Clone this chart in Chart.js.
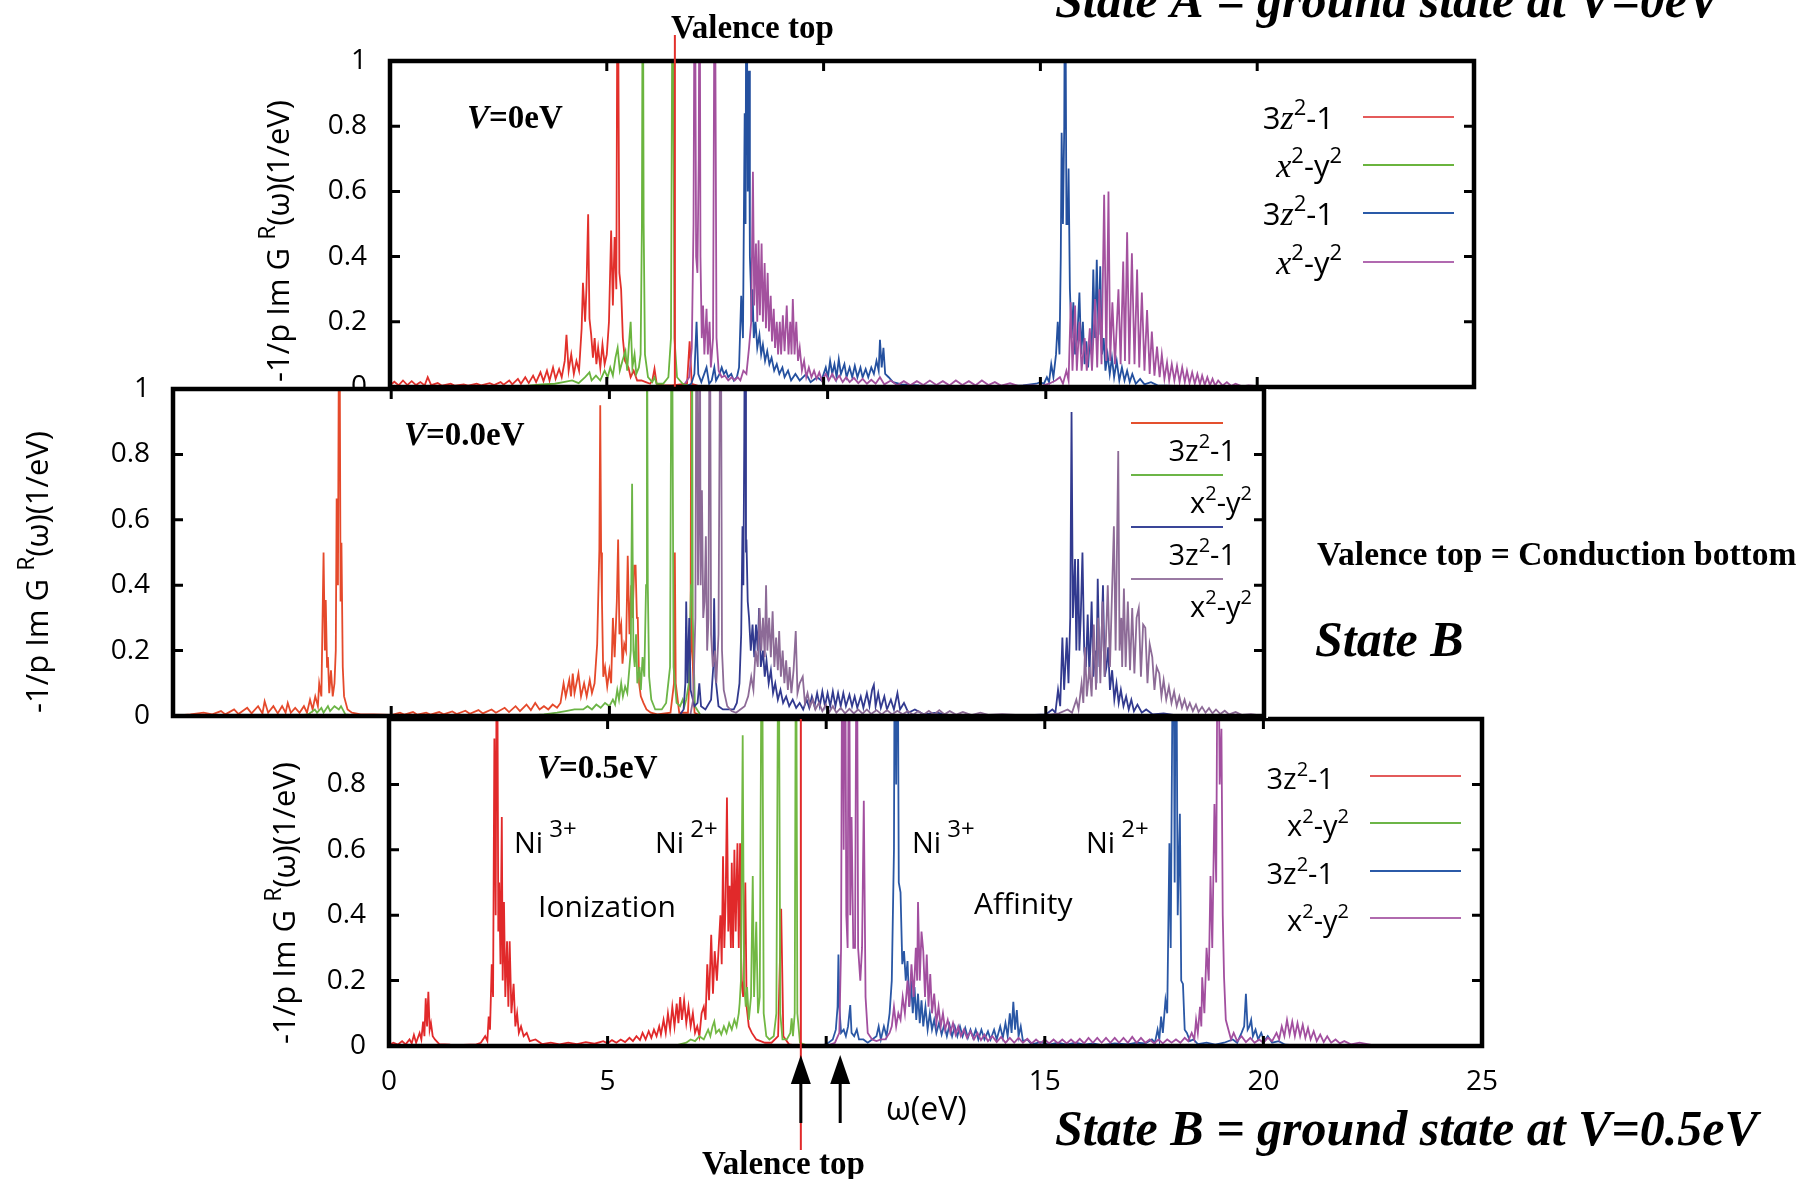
<!DOCTYPE html>
<html><head><meta charset="utf-8">
<script src="https://cdn.jsdelivr.net/npm/chart.js@4.4.1/dist/chart.umd.min.js"></script>
<style>
html,body{margin:0;padding:0;background:#fff;overflow:hidden;width:1805px;height:1179px}
canvas{position:absolute;left:0;top:0}
</style></head>
<body>
<canvas id="cTop" width="1805" height="1179" style="z-index:1"></canvas>
<canvas id="cBot" width="1805" height="1179" style="z-index:2"></canvas>
<canvas id="cMid" width="1805" height="1179" style="z-index:3"></canvas>
<script>
// ---------------- DATA ----------------
const yTicks = [0, 0.2, 0.4, 0.6, 0.8, 1];
const xTicksTop = [0, 5, 10, 15, 20, 25];
const xTicksMid = [-5, 0, 5, 10, 15, 20];
const seriesNames = ['3z²-1', 'x²-y²', '3z²-1', 'x²-y²'];
const panelLabels = ['V=0eV', 'V=0.0eV', 'V=0.5eV'];
const valenceTopA = 6.57;       // eV, top panel marker
const valenceTopB = 9.42;       // eV, bottom panel marker
const conductionBottomB = 10.32; // eV, bottom panel second arrow

// Top panel: State A, V=0eV  [omega (eV), -1/pi Im G]
const topRed = [[0,0.005],[0.1,0.016],[0.2,0.005],[0.3,0.02],[0.4,0.006],[0.5,0.018],[0.6,0.006],[0.7,0.015],[0.8,0.005],[0.87,0.03],[0.95,0.006],[1.1,0.012],[1.2,0.004],[1.4,0.01],[1.5,0.004],[1.7,0.008],[1.8,0.004],[2.0,0.01],[2.1,0.005],[2.3,0.012],[2.4,0.006],[2.55,0.015],[2.62,0.007],[2.75,0.02],[2.82,0.008],[2.95,0.025],[3.02,0.01],[3.12,0.03],[3.2,0.012],[3.3,0.035],[3.37,0.015],[3.47,0.045],[3.54,0.018],[3.62,0.05],[3.68,0.02],[3.76,0.06],[3.82,0.025],[3.9,0.055],[3.96,0.03],[4.03,0.08],[4.07,0.16],[4.12,0.05],[4.18,0.1],[4.24,0.04],[4.3,0.08],[4.36,0.05],[4.42,0.18],[4.45,0.32],[4.5,0.2],[4.53,0.3],[4.57,0.53],[4.6,0.21],[4.64,0.16],[4.68,0.09],[4.72,0.15],[4.76,0.07],[4.8,0.12],[4.85,0.06],[4.9,0.13],[4.95,0.07],[5.0,0.1],[5.05,0.2],[5.1,0.48],[5.14,0.25],[5.18,0.46],[5.22,0.3],[5.25,1.5],[5.29,0.35],[5.33,0.3],[5.37,0.15],[5.42,0.08],[5.5,0.06],[5.55,0.03],[5.62,0.05],[5.7,0.02],[5.8,0.02],[5.9,0.015],[6.0,0.01],[6.05,0.02],[6.1,0.056],[6.15,0.01],[6.3,0.005],[6.5,0.005],[6.85,0.01],[6.91,0.14],[6.96,0.01],[7.2,0]];
const topGreen = [[3.0,0.002],[3.5,0.008],[3.8,0.01],[4.0,0.015],[4.2,0.02],[4.35,0.012],[4.5,0.03],[4.6,0.045],[4.65,0.02],[4.75,0.035],[4.85,0.02],[4.95,0.05],[5.02,0.03],[5.08,0.06],[5.14,0.035],[5.2,0.09],[5.25,0.12],[5.3,0.05],[5.36,0.08],[5.43,0.11],[5.47,0.05],[5.51,0.13],[5.55,0.2],[5.59,0.06],[5.64,0.1],[5.68,0.04],[5.74,0.06],[5.78,0.1],[5.81,0.5],[5.83,1.5],[5.85,0.5],[5.88,0.1],[5.95,0.03],[6.05,0.015],[6.1,0.03],[6.15,0.01],[6.3,0.01],[6.42,0.03],[6.48,0.15],[6.52,1.5],[6.56,0.15],[6.62,0.03],[6.75,0.01],[7.0,0]];
const topBlue = [[6.8,0],[6.95,0.01],[7.02,0.04],[7.07,0.2],[7.11,0.04],[7.18,0.015],[7.3,0.06],[7.36,0.01],[7.42,0.02],[7.48,0.06],[7.52,0.02],[7.6,0.04],[7.65,0.06],[7.7,0.04],[7.75,0.05],[7.8,0.03],[7.87,0.04],[7.93,0.02],[8.0,0.03],[8.05,0.06],[8.1,0.28],[8.14,0.15],[8.18,0.84],[8.2,0.5],[8.22,1.5],[8.25,0.6],[8.28,0.97],[8.3,0.4],[8.32,0.32],[8.34,0.2],[8.36,0.3],[8.39,0.15],[8.43,0.2],[8.47,0.12],[8.52,0.16],[8.56,0.1],[8.6,0.13],[8.65,0.08],[8.7,0.11],[8.75,0.07],[8.8,0.09],[8.86,0.05],[8.92,0.07],[8.98,0.04],[9.05,0.06],[9.1,0.03],[9.18,0.05],[9.25,0.02],[9.35,0.04],[9.45,0.02],[9.6,0.04],[9.7,0.015],[9.85,0.03],[9.95,0.02],[10.05,0.06],[10.1,0.03],[10.15,0.08],[10.2,0.04],[10.25,0.07],[10.3,0.03],[10.35,0.085],[10.4,0.04],[10.48,0.07],[10.53,0.03],[10.6,0.06],[10.66,0.03],[10.72,0.065],[10.78,0.03],[10.85,0.06],[10.9,0.03],[10.97,0.055],[11.03,0.03],[11.1,0.06],[11.16,0.04],[11.22,0.08],[11.27,0.05],[11.3,0.145],[11.34,0.06],[11.38,0.12],[11.42,0.04],[11.5,0.03],[11.6,0.015],[11.8,0.008],[12.2,0.005],[13,0.003],[14,0.003],[14.6,0.005],[14.9,0.01],[15.0,0.015],[15.08,0.01],[15.15,0.03],[15.2,0.015],[15.25,0.07],[15.3,0.03],[15.36,0.1],[15.4,0.2],[15.44,0.1],[15.47,0.4],[15.49,0.78],[15.52,0.5],[15.55,0.8],[15.57,1.5],[15.6,0.5],[15.63,0.5],[15.65,0.67],[15.68,0.3],[15.72,0.15],[15.76,0.26],[15.8,0.1],[15.85,0.15],[15.9,0.29],[15.94,0.1],[15.98,0.2],[16.02,0.07],[16.06,0.14],[16.1,0.06],[16.14,0.15],[16.18,0.1],[16.22,0.36],[16.26,0.15],[16.3,0.39],[16.34,0.16],[16.38,0.37],[16.42,0.1],[16.46,0.15],[16.5,0.05],[16.55,0.1],[16.6,0.04],[16.65,0.09],[16.7,0.03],[16.76,0.08],[16.82,0.02],[16.88,0.06],[16.94,0.02],[17.0,0.05],[17.06,0.015],[17.12,0.04],[17.2,0.01],[17.3,0.025],[17.4,0.008],[17.55,0.015],[17.7,0.005],[18.5,0.002],[20,0]];
const topPurple = [[6.8,0.01],[6.9,0.03],[6.96,0.12],[7.0,0.5],[7.03,1.5],[7.06,0.4],[7.09,0.35],[7.12,0.7],[7.14,1.5],[7.16,0.4],[7.19,0.15],[7.22,0.25],[7.25,0.1],[7.3,0.24],[7.33,0.1],[7.37,0.2],[7.4,0.06],[7.45,0.15],[7.49,1.5],[7.53,0.15],[7.58,0.05],[7.65,0.03],[7.72,0.035],[7.8,0.02],[7.88,0.03],[7.95,0.02],[8.02,0.03],[8.08,0.02],[8.15,0.05],[8.22,0.04],[8.28,0.12],[8.33,0.2],[8.37,0.66],[8.4,0.25],[8.44,0.44],[8.47,0.2],[8.5,0.45],[8.53,0.22],[8.57,0.44],[8.6,0.2],[8.64,0.38],[8.67,0.18],[8.71,0.35],[8.74,0.17],[8.78,0.28],[8.81,0.14],[8.85,0.24],[8.88,0.12],[8.92,0.2],[8.95,0.1],[8.99,0.2],[9.02,0.1],[9.06,0.22],[9.1,0.11],[9.15,0.25],[9.19,0.1],[9.23,0.2],[9.26,0.1],[9.29,0.27],[9.33,0.1],[9.37,0.2],[9.41,0.08],[9.45,0.12],[9.5,0.05],[9.55,0.08],[9.6,0.03],[9.66,0.06],[9.72,0.03],[9.78,0.05],[9.84,0.025],[9.9,0.045],[9.96,0.02],[10.05,0.04],[10.12,0.02],[10.2,0.04],[10.28,0.02],[10.36,0.035],[10.44,0.015],[10.52,0.03],[10.6,0.015],[10.7,0.028],[10.8,0.012],[10.9,0.025],[11.0,0.01],[11.1,0.022],[11.2,0.01],[11.3,0.03],[11.4,0.008],[11.55,0.02],[11.7,0.005],[11.85,0.018],[12.0,0.005],[12.15,0.018],[12.3,0.006],[12.45,0.02],[12.6,0.006],[12.75,0.018],[12.9,0.005],[13.05,0.02],[13.2,0.006],[13.35,0.018],[13.5,0.005],[13.65,0.02],[13.8,0.006],[13.95,0.015],[14.1,0.004],[14.3,0.012],[14.5,0.003],[14.8,0.005],[15.0,0.003],[15.2,0.01],[15.35,0.02],[15.45,0.03],[15.52,0.01],[15.6,0.05],[15.65,0.02],[15.7,0.26],[15.74,0.05],[15.8,0.25],[15.84,0.05],[15.9,0.2],[15.95,0.05],[16.02,0.15],[16.07,0.05],[16.14,0.18],[16.19,0.05],[16.26,0.27],[16.31,0.06],[16.36,0.3],[16.41,0.07],[16.47,0.59],[16.52,0.08],[16.57,0.6],[16.61,0.08],[16.66,0.26],[16.72,0.07],[16.8,0.3],[16.85,0.07],[16.91,0.385],[16.95,0.08],[17.0,0.475],[17.05,0.07],[17.11,0.41],[17.17,0.07],[17.23,0.36],[17.28,0.06],[17.34,0.29],[17.4,0.05],[17.46,0.236],[17.52,0.04],[17.57,0.17],[17.63,0.035],[17.69,0.124],[17.75,0.03],[17.8,0.1],[17.86,0.025],[17.92,0.075],[17.97,0.02],[18.03,0.07],[18.09,0.02],[18.15,0.065],[18.21,0.015],[18.27,0.06],[18.33,0.015],[18.38,0.05],[18.44,0.012],[18.5,0.045],[18.56,0.01],[18.62,0.04],[18.68,0.008],[18.73,0.035],[18.79,0.006],[18.85,0.03],[18.91,0.005],[18.97,0.025],[19.03,0.004],[19.1,0.02],[19.2,0.004],[19.3,0.015],[19.4,0.003],[19.5,0.01],[19.65,0.002],[19.8,0.005],[20.2,0]];

// Middle panel: State B, V=0.0eV
const midRed = [[-5,0],[-4.6,0.005],[-4.3,0.01],[-4.1,0.005],[-3.9,0.015],[-3.8,0.005],[-3.6,0.02],[-3.5,0.006],[-3.3,0.025],[-3.2,0.008],[-3.05,0.03],[-2.95,0.008],[-2.9,0.045],[-2.82,0.01],[-2.7,0.03],[-2.6,0.008],[-2.5,0.03],[-2.42,0.01],[-2.37,0.04],[-2.3,0.01],[-2.2,0.025],[-2.1,0.01],[-2.0,0.03],[-1.93,0.01],[-1.86,0.05],[-1.8,0.02],[-1.74,0.06],[-1.68,0.03],[-1.65,0.1],[-1.6,0.06],[-1.55,0.5],[-1.52,0.2],[-1.5,0.355],[-1.47,0.15],[-1.45,0.18],[-1.42,0.07],[-1.38,0.14],[-1.34,0.06],[-1.3,0.1],[-1.27,0.2],[-1.25,0.665],[-1.22,0.4],[-1.19,1.5],[-1.16,0.35],[-1.14,0.53],[-1.11,0.15],[-1.08,0.06],[-1.0,0.02],[-0.9,0.01],[-0.7,0.005],[-0.4,0.005],[0,0.003],[0.2,0.01],[0.3,0.004],[0.5,0.012],[0.6,0.004],[0.8,0.01],[0.9,0.004],[1.1,0.012],[1.2,0.005],[1.4,0.014],[1.5,0.006],[1.7,0.016],[1.8,0.007],[2.0,0.018],[2.1,0.008],[2.3,0.02],[2.4,0.01],[2.6,0.025],[2.7,0.012],[2.85,0.03],[2.95,0.015],[3.1,0.035],[3.2,0.018],[3.3,0.04],[3.4,0.02],[3.5,0.03],[3.6,0.02],[3.7,0.035],[3.8,0.025],[3.88,0.04],[3.95,0.1],[4.0,0.06],[4.08,0.11],[4.12,0.06],[4.16,0.13],[4.2,0.07],[4.29,0.13],[4.35,0.06],[4.42,0.1],[4.48,0.06],[4.55,0.11],[4.6,0.07],[4.66,0.1],[4.72,0.22],[4.77,0.51],[4.79,0.95],[4.81,0.5],[4.83,0.35],[4.86,0.12],[4.9,0.15],[4.95,0.09],[5.0,0.14],[5.04,0.1],[5.08,0.3],[5.12,0.18],[5.17,0.35],[5.2,0.54],[5.23,0.25],[5.27,0.28],[5.3,0.16],[5.34,0.22],[5.38,0.2],[5.42,0.49],[5.46,0.25],[5.5,0.4],[5.53,0.3],[5.57,0.46],[5.6,0.46],[5.63,0.3],[5.65,0.3],[5.68,0.1],[5.72,0.06],[5.78,0.04],[5.85,0.02],[5.95,0.01],[6.1,0.005],[6.4,0.01],[6.48,0.1],[6.5,0.5],[6.52,0.1],[6.6,0.01],[6.8,0.01],[6.86,0.2],[6.88,1.5],[6.9,0.2],[6.95,0.01],[7.1,0]];
const midGreen = [[-2.2,0],[-1.9,0.005],[-1.75,0.02],[-1.7,0.01],[-1.6,0.025],[-1.55,0.01],[-1.45,0.03],[-1.4,0.015],[-1.3,0.03],[-1.2,0.02],[-1.15,0.03],[-1.05,0.005],[-0.8,0],[3.0,0],[3.5,0.005],[3.8,0.01],[4.0,0.015],[4.2,0.02],[4.4,0.02],[4.5,0.03],[4.6,0.02],[4.7,0.035],[4.8,0.025],[4.9,0.04],[5.0,0.03],[5.08,0.05],[5.13,0.035],[5.18,0.08],[5.22,0.05],[5.27,0.1],[5.31,0.06],[5.36,0.09],[5.41,0.07],[5.46,0.15],[5.49,0.2],[5.52,0.71],[5.55,0.2],[5.58,0.15],[5.61,0.25],[5.64,0.1],[5.69,0.15],[5.72,0.08],[5.76,0.18],[5.8,0.12],[5.84,0.4],[5.86,1.5],[5.88,0.4],[5.91,0.12],[5.96,0.05],[6.05,0.02],[6.2,0.02],[6.3,0.04],[6.39,0.15],[6.43,1.5],[6.47,0.15],[6.54,0.04],[6.62,0.03],[6.68,0.05],[6.72,0.03],[6.76,0.05],[6.82,0.1],[6.87,0.4],[6.89,1.5],[6.91,0.3],[6.96,0.03],[7.1,0]];
const midBlue = [[6.6,0],[6.7,0.02],[6.74,0.1],[6.76,0.35],[6.79,0.1],[6.83,0.3],[6.86,0.08],[6.95,0.03],[7.02,0.04],[7.06,0.1],[7.1,0.03],[7.2,0.02],[7.33,0.05],[7.38,0.15],[7.4,0.36],[7.43,0.12],[7.5,0.03],[7.6,0.02],[7.75,0.02],[7.85,0.02],[7.92,0.04],[7.98,0.1],[8.02,0.25],[8.05,0.58],[8.07,0.4],[8.09,0.84],[8.11,1.5],[8.13,0.5],[8.14,0.54],[8.17,0.35],[8.2,0.3],[8.24,0.2],[8.28,0.28],[8.32,0.18],[8.36,0.28],[8.4,0.2],[8.43,0.33],[8.47,0.15],[8.52,0.2],[8.56,0.12],[8.6,0.17],[8.65,0.1],[8.7,0.14],[8.75,0.07],[8.8,0.1],[8.86,0.05],[8.92,0.08],[8.98,0.04],[9.05,0.06],[9.12,0.03],[9.2,0.05],[9.28,0.025],[9.36,0.04],[9.44,0.02],[9.52,0.05],[9.58,0.025],[9.64,0.06],[9.7,0.03],[9.76,0.07],[9.82,0.03],[9.88,0.075],[9.94,0.03],[10.0,0.07],[10.06,0.03],[10.12,0.075],[10.18,0.03],[10.24,0.07],[10.3,0.03],[10.36,0.07],[10.42,0.03],[10.5,0.065],[10.56,0.03],[10.62,0.06],[10.68,0.025],[10.76,0.06],[10.82,0.025],[10.9,0.07],[10.96,0.03],[11.02,0.08],[11.06,0.095],[11.1,0.03],[11.16,0.07],[11.22,0.025],[11.3,0.06],[11.36,0.02],[11.45,0.05],[11.52,0.02],[11.6,0.07],[11.66,0.02],[11.75,0.04],[11.85,0.01],[12.0,0.02],[12.2,0.005],[12.5,0.01],[12.8,0.003],[13.5,0.003],[14.5,0.002],[15.0,0.005],[15.15,0.02],[15.22,0.01],[15.28,0.08],[15.33,0.03],[15.38,0.24],[15.42,0.08],[15.48,0.24],[15.52,0.1],[15.56,0.3],[15.59,0.93],[15.62,0.3],[15.67,0.48],[15.7,0.2],[15.74,0.48],[15.77,0.2],[15.8,0.3],[15.84,0.5],[15.88,0.2],[15.92,0.15],[15.96,0.31],[16.0,0.12],[16.05,0.35],[16.09,0.12],[16.13,0.2],[16.16,0.1],[16.19,0.42],[16.23,0.15],[16.27,0.2],[16.31,0.4],[16.35,0.12],[16.39,0.15],[16.43,0.21],[16.47,0.08],[16.52,0.14],[16.57,0.05],[16.62,0.1],[16.67,0.04],[16.72,0.08],[16.78,0.03],[16.84,0.06],[16.9,0.02],[16.96,0.05],[17.02,0.015],[17.1,0.035],[17.2,0.01],[17.3,0.02],[17.45,0.005],[17.7,0.008],[18,0.002],[20,0]];
const midPurple = [[6.85,0],[6.92,0.05],[6.97,0.3],[7.0,1.5],[7.03,0.4],[7.05,0.6],[7.07,1.5],[7.09,0.4],[7.12,0.69],[7.15,0.3],[7.18,0.35],[7.21,0.55],[7.24,0.2],[7.27,0.3],[7.3,1.5],[7.33,0.25],[7.37,0.15],[7.42,0.2],[7.45,0.1],[7.5,0.25],[7.55,1.5],[7.58,0.2],[7.62,0.08],[7.7,0.03],[7.8,0.015],[7.9,0.01],[8.0,0.02],[8.1,0.03],[8.18,0.06],[8.25,0.12],[8.3,0.08],[8.35,0.2],[8.4,0.15],[8.44,0.33],[8.48,0.2],[8.52,0.3],[8.56,0.18],[8.59,0.4],[8.62,0.2],[8.66,0.3],[8.7,0.18],[8.74,0.32],[8.78,0.15],[8.82,0.24],[8.86,0.14],[8.89,0.26],[8.93,0.12],[8.97,0.2],[9.01,0.1],[9.05,0.17],[9.09,0.08],[9.13,0.15],[9.17,0.07],[9.22,0.14],[9.27,0.26],[9.31,0.07],[9.36,0.1],[9.43,0.12],[9.48,0.04],[9.54,0.07],[9.6,0.03],[9.66,0.05],[9.72,0.02],[9.8,0.04],[9.88,0.015],[9.96,0.035],[10.04,0.012],[10.12,0.03],[10.2,0.01],[10.3,0.025],[10.4,0.008],[10.5,0.022],[10.6,0.008],[10.7,0.02],[10.8,0.007],[10.9,0.02],[11.0,0.006],[11.12,0.018],[11.24,0.005],[11.36,0.018],[11.48,0.005],[11.6,0.016],[11.72,0.005],[11.84,0.015],[11.96,0.004],[12.08,0.015],[12.2,0.004],[12.32,0.016],[12.44,0.004],[12.56,0.018],[12.68,0.005],[12.8,0.015],[12.95,0.004],[13.1,0.012],[13.3,0.003],[13.5,0.01],[13.7,0.003],[14,0.006],[14.5,0.002],[15.0,0.003],[15.3,0.008],[15.5,0.02],[15.6,0.01],[15.7,0.05],[15.75,0.02],[15.82,0.1],[15.86,0.04],[15.9,0.21],[15.94,0.06],[16.0,0.15],[16.05,0.06],[16.1,0.28],[16.15,0.08],[16.2,0.3],[16.25,0.1],[16.3,0.35],[16.35,0.12],[16.42,0.4],[16.47,0.15],[16.56,0.58],[16.6,0.2],[16.66,0.81],[16.69,0.2],[16.73,0.3],[16.75,0.15],[16.79,0.39],[16.83,0.15],[16.88,0.35],[16.93,0.14],[16.98,0.33],[17.03,0.13],[17.08,0.3],[17.13,0.33],[17.18,0.12],[17.23,0.28],[17.28,0.27],[17.33,0.1],[17.38,0.22],[17.44,0.18],[17.49,0.08],[17.54,0.15],[17.6,0.13],[17.65,0.06],[17.7,0.11],[17.76,0.05],[17.82,0.09],[17.88,0.04],[17.94,0.075],[18.0,0.03],[18.06,0.06],[18.12,0.025],[18.18,0.05],[18.24,0.02],[18.3,0.04],[18.37,0.015],[18.44,0.035],[18.5,0.012],[18.58,0.028],[18.66,0.01],[18.74,0.024],[18.82,0.008],[18.9,0.02],[19.0,0.006],[19.1,0.016],[19.2,0.005],[19.35,0.012],[19.5,0.003],[19.7,0.006],[20,0]];

// Bottom panel: State B, V=0.5eV
const botRed = [[0,0.003],[0.1,0.01],[0.2,0.004],[0.3,0.015],[0.38,0.005],[0.47,0.02],[0.52,0.008],[0.57,0.034],[0.62,0.01],[0.7,0.04],[0.74,0.02],[0.78,0.075],[0.81,0.03],[0.84,0.146],[0.87,0.06],[0.9,0.166],[0.93,0.05],[0.96,0.07],[1.0,0.03],[1.05,0.02],[1.15,0.006],[1.4,0.004],[1.7,0.003],[2.0,0.005],[2.1,0.01],[2.2,0.03],[2.25,0.015],[2.28,0.09],[2.31,0.05],[2.35,0.25],[2.38,0.15],[2.41,0.94],[2.44,0.4],[2.47,1.5],[2.5,0.35],[2.52,0.5],[2.55,0.25],[2.58,0.7],[2.6,0.2],[2.63,0.44],[2.66,0.15],[2.7,0.32],[2.73,0.12],[2.76,0.32],[2.8,0.1],[2.85,0.19],[2.89,0.06],[2.93,0.1],[2.97,0.04],[3.02,0.06],[3.08,0.03],[3.15,0.04],[3.22,0.015],[3.35,0.02],[3.5,0.006],[3.7,0.01],[3.9,0.005],[4.1,0.01],[4.3,0.006],[4.5,0.012],[4.7,0.007],[4.9,0.015],[5.0,0.008],[5.1,0.018],[5.2,0.01],[5.3,0.02],[5.4,0.012],[5.5,0.025],[5.58,0.015],[5.66,0.03],[5.74,0.018],[5.8,0.04],[5.87,0.02],[5.94,0.045],[6.0,0.025],[6.06,0.05],[6.12,0.03],[6.18,0.06],[6.22,0.035],[6.28,0.08],[6.33,0.04],[6.38,0.1],[6.43,0.05],[6.48,0.12],[6.53,0.06],[6.58,0.13],[6.62,0.07],[6.66,0.15],[6.7,0.08],[6.75,0.14],[6.8,0.07],[6.85,0.12],[6.9,0.06],[6.95,0.1],[7.0,0.04],[7.05,0.06],[7.1,0.03],[7.15,0.1],[7.2,0.12],[7.24,0.08],[7.28,0.25],[7.32,0.14],[7.37,0.34],[7.41,0.16],[7.45,0.29],[7.5,0.2],[7.54,0.3],[7.58,0.4],[7.61,0.25],[7.64,0.58],[7.67,0.3],[7.7,0.45],[7.73,0.76],[7.76,0.35],[7.79,0.49],[7.82,0.3],[7.84,0.56],[7.87,0.3],[7.9,0.6],[7.93,0.35],[7.97,0.62],[8.0,0.3],[8.03,0.62],[8.06,0.2],[8.1,0.15],[8.15,0.5],[8.18,0.12],[8.23,0.06],[8.3,0.04],[8.4,0.02],[8.5,0.015],[8.6,0.01],[8.75,0.01],[8.9,0.03],[8.97,0.42],[9.02,0.03],[9.15,0.005],[9.3,0.002],[9.6,0]];
const botGreen = [[6.5,0],[6.8,0.01],[6.9,0.02],[7.0,0.015],[7.1,0.03],[7.2,0.02],[7.3,0.05],[7.35,0.03],[7.4,0.06],[7.44,0.075],[7.48,0.04],[7.55,0.05],[7.6,0.035],[7.66,0.06],[7.72,0.04],[7.78,0.07],[7.84,0.05],[7.9,0.08],[7.95,0.06],[8.0,0.1],[8.02,0.13],[8.05,0.2],[8.09,0.95],[8.12,0.2],[8.16,0.12],[8.19,0.18],[8.23,0.08],[8.28,0.15],[8.32,0.52],[8.35,0.15],[8.4,0.38],[8.44,0.1],[8.48,0.15],[8.53,1.5],[8.57,0.1],[8.63,0.03],[8.7,0.02],[8.8,0.03],[8.86,0.1],[8.91,1.5],[8.95,0.1],[9.0,0.02],[9.1,0.02],[9.18,0.04],[9.21,0.085],[9.24,0.03],[9.28,0.1],[9.31,1.5],[9.34,0.1],[9.4,0.01],[9.6,0]];
const botBlue = [[9.8,0],[10.0,0.005],[10.15,0.02],[10.22,0.05],[10.26,0.12],[10.28,0.28],[10.3,0.12],[10.34,0.04],[10.4,0.05],[10.45,0.03],[10.5,0.06],[10.55,0.125],[10.58,0.04],[10.64,0.03],[10.7,0.05],[10.75,0.02],[10.85,0.02],[10.95,0.01],[11.05,0.02],[11.15,0.03],[11.2,0.06],[11.25,0.02],[11.32,0.06],[11.38,0.03],[11.45,0.1],[11.5,0.2],[11.55,0.6],[11.57,1.5],[11.6,0.8],[11.63,1.5],[11.66,0.5],[11.7,0.47],[11.74,0.25],[11.78,0.29],[11.82,0.2],[11.86,0.26],[11.9,0.12],[11.94,0.2],[11.98,0.1],[12.02,0.18],[12.06,0.08],[12.1,0.16],[12.14,0.07],[12.18,0.14],[12.22,0.06],[12.27,0.12],[12.32,0.05],[12.37,0.1],[12.42,0.05],[12.47,0.08],[12.52,0.04],[12.58,0.07],[12.64,0.035],[12.7,0.065],[12.76,0.03],[12.82,0.065],[12.88,0.03],[12.94,0.06],[13.0,0.03],[13.06,0.06],[13.12,0.03],[13.18,0.055],[13.24,0.025],[13.3,0.05],[13.36,0.025],[13.42,0.05],[13.48,0.02],[13.55,0.05],[13.62,0.02],[13.7,0.045],[13.76,0.02],[13.84,0.05],[13.9,0.02],[13.98,0.06],[14.04,0.025],[14.1,0.07],[14.15,0.03],[14.2,0.1],[14.24,0.04],[14.28,0.135],[14.32,0.05],[14.36,0.11],[14.4,0.03],[14.45,0.06],[14.5,0.015],[14.6,0.02],[14.7,0.005],[14.9,0.012],[15.1,0.004],[15.3,0.01],[15.5,0.004],[15.7,0.01],[15.9,0.004],[16.1,0.008],[16.3,0.003],[16.6,0.008],[16.9,0.005],[17.1,0.01],[17.3,0.008],[17.45,0.02],[17.52,0.01],[17.58,0.05],[17.62,0.02],[17.66,0.09],[17.7,0.04],[17.76,0.14],[17.8,0.1],[17.85,0.62],[17.88,0.3],[17.94,1.5],[17.97,0.5],[18.0,1.5],[18.04,0.4],[18.09,0.71],[18.12,0.2],[18.16,0.19],[18.2,0.05],[18.25,0.04],[18.32,0.015],[18.4,0.02],[18.5,0.006],[18.7,0.01],[18.9,0.004],[19.1,0.01],[19.3,0.02],[19.4,0.01],[19.5,0.04],[19.56,0.06],[19.6,0.16],[19.64,0.05],[19.68,0.06],[19.72,0.08],[19.76,0.03],[19.82,0.05],[19.88,0.02],[19.95,0.04],[20.02,0.015],[20.1,0.03],[20.2,0.01],[20.35,0.015],[20.5,0.004],[21,0]];
const botPurple = [[10.0,0],[10.2,0.01],[10.3,0.04],[10.34,0.3],[10.37,1.5],[10.4,0.6],[10.43,1.5],[10.46,0.4],[10.49,0.3],[10.52,1.5],[10.55,0.4],[10.58,0.7],[10.62,0.3],[10.66,0.3],[10.7,1.5],[10.73,0.3],[10.78,0.2],[10.82,0.3],[10.86,0.75],[10.9,0.15],[10.95,0.04],[11.05,0.02],[11.15,0.015],[11.25,0.02],[11.35,0.02],[11.45,0.04],[11.5,0.06],[11.55,0.12],[11.6,0.06],[11.65,0.1],[11.7,0.08],[11.75,0.15],[11.8,0.1],[11.86,0.2],[11.9,0.12],[11.95,0.25],[12.0,0.15],[12.05,0.3],[12.08,0.2],[12.1,0.44],[12.14,0.2],[12.18,0.35],[12.22,0.29],[12.26,0.15],[12.3,0.28],[12.34,0.12],[12.38,0.22],[12.42,0.1],[12.47,0.16],[12.52,0.07],[12.57,0.12],[12.62,0.06],[12.67,0.1],[12.72,0.05],[12.78,0.08],[12.84,0.04],[12.9,0.07],[12.96,0.035],[13.02,0.06],[13.08,0.03],[13.15,0.05],[13.22,0.025],[13.3,0.045],[13.38,0.02],[13.46,0.04],[13.54,0.018],[13.62,0.035],[13.7,0.015],[13.8,0.03],[13.9,0.012],[14.0,0.028],[14.1,0.01],[14.2,0.025],[14.3,0.01],[14.4,0.025],[14.5,0.01],[14.6,0.022],[14.7,0.008],[14.8,0.02],[14.9,0.008],[15.0,0.02],[15.1,0.008],[15.2,0.02],[15.3,0.008],[15.4,0.02],[15.5,0.008],[15.6,0.02],[15.7,0.008],[15.8,0.022],[15.9,0.008],[16.0,0.025],[16.1,0.01],[16.2,0.025],[16.3,0.01],[16.4,0.025],[16.5,0.01],[16.6,0.025],[16.7,0.01],[16.8,0.025],[16.9,0.01],[17.0,0.028],[17.1,0.01],[17.2,0.025],[17.3,0.01],[17.4,0.02],[17.5,0.008],[17.6,0.02],[17.7,0.008],[17.8,0.02],[17.9,0.01],[18.0,0.02],[18.1,0.01],[18.2,0.025],[18.28,0.015],[18.36,0.04],[18.42,0.02],[18.46,0.08],[18.5,0.04],[18.55,0.12],[18.58,0.06],[18.6,0.21],[18.65,0.1],[18.7,0.3],[18.75,0.2],[18.79,0.52],[18.83,0.3],[18.88,0.74],[18.92,0.5],[18.96,1.5],[19.0,0.8],[19.04,0.97],[19.07,0.4],[19.1,0.21],[19.14,0.08],[19.2,0.05],[19.26,0.02],[19.32,0.04],[19.4,0.015],[19.5,0.03],[19.6,0.012],[19.7,0.025],[19.8,0.01],[19.9,0.02],[20.0,0.01],[20.1,0.025],[20.2,0.015],[20.3,0.04],[20.36,0.02],[20.42,0.06],[20.48,0.03],[20.54,0.08],[20.6,0.035],[20.66,0.075],[20.72,0.03],[20.78,0.07],[20.84,0.03],[20.9,0.065],[20.96,0.025],[21.02,0.055],[21.08,0.02],[21.15,0.045],[21.22,0.015],[21.3,0.035],[21.38,0.012],[21.46,0.03],[21.55,0.01],[21.65,0.02],[21.75,0.008],[21.85,0.015],[22.0,0.005],[22.2,0.01],[22.5,0.003],[23,0.002],[24,0]];

// ---------------- RENDERING ----------------
const SANS = '"Open Sans", "DejaVu Sans", sans-serif';
const SERIF = '"Liberation Serif", "DejaVu Serif", serif';
const f = (size, fam, style) => (style ? style + ' ' : '') + size + 'px ' + fam;

function rich(c, parts, x, y, align) {
  let w = 0;
  parts.forEach(p => { c.font = p[1]; w += c.measureText(p[0]).width + (p[3] || 0); });
  let cx = align === 'right' ? x - w : (align === 'center' ? x - w / 2 : x);
  parts.forEach(p => {
    c.font = p[1]; cx += (p[3] || 0);
    c.fillText(p[0], cx, y + (p[2] || 0));
    cx += c.measureText(p[0]).width;
  });
}

const decor = {
  id: 'decor',
  beforeDraw(chart, _a, o) {
    if (o.bg) { const c = chart.ctx; c.save(); c.fillStyle = '#fff'; c.fillRect(o.bg[0], o.bg[1], o.bg[2], o.bg[3]); c.restore(); }
  },
  afterDatasetsDraw(chart, _a, o) {
    const c = chart.ctx, a = chart.chartArea, xs = chart.scales.x, ys = chart.scales.y;
    const L = 10;
    c.save();
    c.strokeStyle = '#000'; c.lineWidth = 3;
    xs.ticks.forEach(t => {
      const px = xs.getPixelForValue(t.value);
      c.beginPath(); c.moveTo(px, a.bottom); c.lineTo(px, a.bottom - L);
      c.moveTo(px, a.top); c.lineTo(px, a.top + L); c.stroke();
    });
    ys.ticks.forEach(t => {
      const py = ys.getPixelForValue(t.value);
      c.beginPath(); c.moveTo(a.left, py); c.lineTo(a.left + L, py);
      c.moveTo(a.right, py); c.lineTo(a.right - L, py); c.stroke();
    });
    c.lineWidth = 4.5;
    c.strokeRect(a.left, a.top, a.right - a.left, a.bottom - a.top);
    (o.markers || []).forEach(m => {
      const px = xs.getPixelForValue(m.x);
      c.strokeStyle = m.color; c.lineWidth = 2;
      c.beginPath(); c.moveTo(px, m.from === 'top' ? a.top : a.bottom); c.lineTo(px, m.to); c.stroke();
    });
    (o.arrows || []).forEach(m => {
      const px = xs.getPixelForValue(m.x);
      c.strokeStyle = '#000'; c.fillStyle = '#000'; c.lineWidth = 3;
      c.beginPath(); c.moveTo(px, m.tip + 20); c.lineTo(px, m.tail); c.stroke();
      c.beginPath(); c.moveTo(px, m.tip); c.lineTo(px - 10, m.tip + 29); c.lineTo(px + 10, m.tip + 29); c.closePath(); c.fill();
    });
    c.restore();
  },
  afterDraw(chart, _a, o) {
    const c = chart.ctx;
    c.save(); c.fillStyle = '#000'; c.textBaseline = 'alphabetic'; c.textAlign = 'left';
    (o.texts || []).forEach(t => {
      if (t.rot) {
        c.save(); c.translate(t.x, t.y); c.rotate(-Math.PI / 2);
        rich(c, t.parts, 0, t.base, 'center'); c.restore();
      } else rich(c, t.parts, t.x, t.y, t.align || 'left');
    });
    const lg = o.legend;
    if (lg) {
      lg.rows.forEach((r, i) => {
        const ly = lg.ys[i];
        c.strokeStyle = r.color; c.lineWidth = 2.2;
        c.beginPath(); c.moveTo(lg.x0, ly); c.lineTo(lg.x1, ly); c.stroke();
        rich(c, r.parts, r.right, ly + lg.dy, 'right');
      });
    }
    c.restore();
  }
};

function makeSeries(list) {
  return list.map((s, i) => ({
    label: seriesNames[i],
    data: s.pts.map(p => ({ x: p[0], y: p[1] })),
    borderColor: s.color, borderWidth: 1.8, pointRadius: 0, tension: 0, fill: false,
    order: 4 - i
  }));
}

function panel(id, cfg) {
  return new Chart(document.getElementById(id), {
    type: 'line',
    data: { datasets: makeSeries(cfg.series) },
    options: {
      responsive: false, animation: false, devicePixelRatio: 1,
      events: [],
      layout: { padding: { left: cfg.area[0] - 80, top: cfg.area[1], right: 1805 - cfg.area[2], bottom: 1179 - cfg.area[3] - cfg.xh } },
      plugins: { legend: { display: false }, tooltip: { enabled: false }, decor: cfg.decor },
      scales: {
        x: {
          type: 'linear', min: cfg.xr[0], max: cfg.xr[1],
          afterBuildTicks: s => { s.ticks = cfg.xt.map(v => ({ value: v })); },
          ticks: { display: cfg.showX, font: { family: SANS, size: 28 }, color: '#000', padding: 19, maxRotation: 0,
                   callback: v => (cfg.hideX || []).includes(v) ? '' : String(v) },
          grid: { display: false, drawTicks: false }, border: { display: false },
          afterFit: s => { s.height = cfg.xh; }
        },
        y: {
          min: 0, max: 1,
          afterBuildTicks: s => { s.ticks = yTicks.map(v => ({ value: v })); },
          ticks: { font: { family: SANS, size: 28 }, color: '#000', padding: 23,
                   callback: v => (cfg.hideY || []).includes(v) ? '' : String(Math.round(v * 10) / 10) },
          grid: { display: false, drawTicks: false }, border: { display: false },
          afterFit: s => { s.width = 80; }
        }
      }
    },
    plugins: [decor]
  });
}

const yTitle = (x, y) => ({ rot: true, x, y, base: 11, parts: [['-1/p Im G ', f(31, SANS)], ['R', f(23, SANS), -14], ['(ω)(1/eV)', f(31, SANS)]] });
const legTop = (n) => n === 0
  ? [['3', f(31, SANS)], ['z', f(34, SERIF, 'italic')], ['2', f(22, SANS), -14], ['-1', f(31, SANS)]]
  : [['x', f(34, SERIF, 'italic')], ['2', f(22, SANS), -14], ['-y', f(31, SANS)], ['2', f(22, SANS), -14]];
const legSans = (n) => n === 0
  ? [['3z', f(29, SANS)], ['2', f(20, SANS), -13], ['-1', f(29, SANS)]]
  : [['x', f(29, SANS)], ['2', f(20, SANS), -13], ['-y', f(29, SANS)], ['2', f(20, SANS), -13]];
const ni = (x, y, ch) => ({ x, y, parts: [['Ni', f(29, SANS)], [ch, f(24, SANS), -16, 6]] });

// Top panel
panel('cTop', {
  area: [390, 61, 1474, 387], xh: 10, xr: [0, 25], xt: xTicksTop, showX: false,
  series: [{ pts: topRed, color: '#e2302b' }, { pts: topGreen, color: '#6ab43e' }, { pts: topBlue, color: '#24509f' }, { pts: topPurple, color: '#a3519e' }],
  decor: {
    markers: [{ x: valenceTopA, from: 'bottom', to: 35, color: '#e2302b' }],
    texts: [
      { x: 671, y: 38, parts: [['Valence top', f(33, SERIF, 'bold')]] },
      { x: 1055, y: 17, parts: [['State A = ground state at V=0eV', f(50, SERIF, 'italic bold')]] },
      { x: 467, y: 128, parts: [['V', f(33, SERIF, 'italic bold')], ['=0eV', f(33, SERIF, 'bold')]] },
      yTitle(278, 241)
    ],
    legend: { x0: 1363, x1: 1454, ys: [117, 165, 213, 262], dy: 12,
      rows: [{ color: '#e45b5b', parts: legTop(0), right: 1334 }, { color: '#6ab43e', parts: legTop(1), right: 1342 },
             { color: '#2a5aa8', parts: legTop(0), right: 1334 }, { color: '#b169b0', parts: legTop(1), right: 1342 }] }
  }
});

// Bottom panel
panel('cBot', {
  area: [389, 719, 1482, 1046], xh: 60, xr: [0, 25], xt: xTicksTop, showX: true, hideX: [10], hideY: [1],
  series: [{ pts: botRed, color: '#e1292a' }, { pts: botGreen, color: '#72b843' }, { pts: botBlue, color: '#2a57a5' }, { pts: botPurple, color: '#a24f9f' }],
  decor: {
    markers: [{ x: valenceTopB, from: 'top', to: 1150, color: '#e1292a' }],
    arrows: [{ x: valenceTopB, tip: 1055, tail: 1123 }, { x: conductionBottomB, tip: 1055, tail: 1123 }],
    texts: [
      { x: 537, y: 778, parts: [['V', f(33, SERIF, 'italic bold')], ['=0.5eV', f(33, SERIF, 'bold')]] },
      yTitle(284, 903),
      ni(514, 853, '3+'), ni(655, 853, '2+'), ni(912, 853, '3+'), ni(1086, 853, '2+'),
      { x: 538, y: 917, parts: [['Ionization', f(30, SANS)]] },
      { x: 974, y: 914, parts: [['Affinity', f(30, SANS)]] },
      { x: 886, y: 1120, parts: [['ω(eV)', f(32, SANS)]] },
      { x: 702, y: 1174, parts: [['Valence top', f(33, SERIF, 'bold')]] },
      { x: 1055, y: 1145, parts: [['State B = ground state at V=0.5eV', f(50, SERIF, 'italic bold')]] }
    ],
    legend: { x0: 1370, x1: 1461, ys: [776, 823, 871, 918], dy: 13,
      rows: [{ color: '#e35b5b', parts: legSans(0), right: 1334 }, { color: '#6cb547', parts: legSans(1), right: 1349 },
             { color: '#2b5aa8', parts: legSans(0), right: 1334 }, { color: '#b06aae', parts: legSans(1), right: 1349 }] }
  }
});

// Middle panel
panel('cMid', {
  area: [173, 389, 1264, 716], xh: 10, xr: [-5, 20], xt: xTicksMid, showX: false,
  series: [{ pts: midRed, color: '#e5492b' }, { pts: midGreen, color: '#6cb547' }, { pts: midBlue, color: '#323a8f' }, { pts: midPurple, color: '#8d6b97' }],
  decor: {
    bg: [0, 389, 1268, 329],
    texts: [
      { x: 404, y: 445, parts: [['V', f(33, SERIF, 'italic bold')], ['=0.0eV', f(33, SERIF, 'bold')]] },
      yTitle(37, 572),
      { x: 1317, y: 565, parts: [['Valence top = Conduction bottom', f(33.5, SERIF, 'bold')]] },
      { x: 1315, y: 656, parts: [['State B', f(50, SERIF, 'italic bold')]] }
    ],
    legend: { x0: 1131, x1: 1223, ys: [423, 475, 527, 579], dy: 38,
      rows: [{ color: '#e4502e', parts: legSans(0), right: 1236 }, { color: '#6cb547', parts: legSans(1), right: 1252 },
             { color: '#3a4698', parts: legSans(0), right: 1236 }, { color: '#9a7aa3', parts: legSans(1), right: 1252 }] }
  }
});
</script>
</body></html>
